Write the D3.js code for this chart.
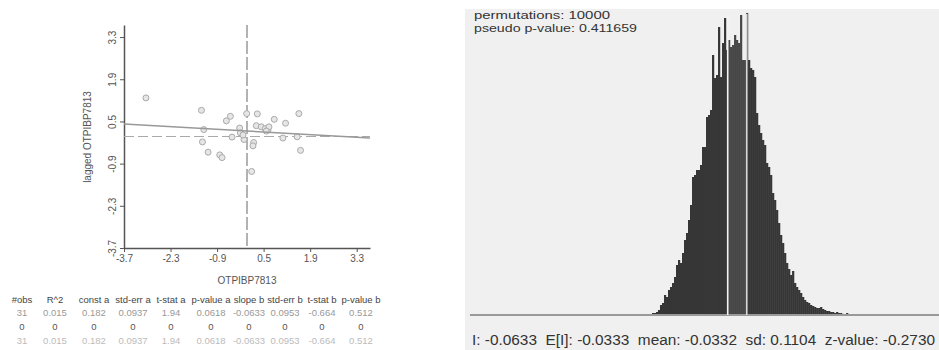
<!DOCTYPE html>
<html>
<head>
<meta charset="utf-8">
<script src="https://cdn.jsdelivr.net/npm/d3@7"></script>
<style>
  body { margin: 0; background: #fff; }
  svg { display: block; font-family: Arial, "Liberation Sans", sans-serif; }
</style>
</head>
<body>
<div id="chart"></div>
<script>
// scatter: variable vs lagged variable
const pointsX = [-3.04, -1.37, -1.30, -1.34, -1.17, -0.82, -0.75, -0.62, -0.50, -0.45, -0.22, -0.20, -0.09, -0.01, 0.20,
                 0.18, 0.14, 0.31, 0.28, 0.43, 0.55, 0.63, 0.66, 0.82, 1.16, 1.08, 1.51, 1.56, 1.61, 0.58, -0.12];
const pointsY = [1.28, 0.87, 0.23, -0.18, -0.52, -0.61, -0.70, 0.52, 0.67, -0.02, 0.28, 0.12, -0.10, 0.76, -0.20,
                 -0.31, -1.16, 0.75, 0.36, 0.32, 0.26, 0.21, 0.32, 0.57, 0.44, -0.05, -0.01, 0.76, -0.46, 0.18, 0.05];
const axisTicks = [-3.7, -2.3, -0.9, 0.5, 1.9, 3.3];
const constA = 0.182, slopeB = -0.0633;

// regression table
const tableHeader = ["#obs", "R^2", "const a", "std-err a", "t-stat a", "p-value a", "slope b", "std-err b", "t-stat b", "p-value b"];
const tableRow1 = ["31", "0.015", "0.182", "0.0937", "1.94", "0.0618", "-0.0633", "0.0953", "-0.664", "0.512"];
const tableRow2 = ["0", "0", "0", "0", "0", "0", "0", "0", "0", "0"];
const tableRow3 = ["31", "0.015", "0.182", "0.0937", "1.94", "0.0618", "-0.0633", "0.0953", "-0.664", "0.512"];

// permutation histogram (counts per bin)
const binStart = -0.1892, binWidth = 0.00316;
const binCounts = [1, 1, 2, 2, 3, 5, 10, 12, 20, 18, 25, 28, 32, 38, 50, 55, 52, 62, 75, 82,
                   95, 110, 138, 140, 145, 145, 150, 168, 168, 198, 200, 205, 260, 237, 240, 288, 238, 272, 297, 265,
                   275, 268, 270, 280, 275, 272, 300, 255, 255, 302, 255, 247, 245, 238, 202, 190, 182, 175, 170, 152,
                   148, 140, 122, 115, 105, 92, 80, 72, 62, 52, 46, 40, 44, 32, 28, 25, 22, 18, 15, 13,
                   12, 10, 9, 8, 7, 7, 8, 6, 5, 4, 4, 3, 3, 2, 3, 2, 2, 1, 1, 2,
                   1, 1, 0, 1, 1, 0, 1, 0, 1, 0, 1];
const observedI = -0.0633, expectedI = -0.0333;
const permText = ["permutations: 10000", "pseudo p-value: 0.411659"];
const statLabels = ["I:", "E[I]:", "mean:", "sd:", "z-value:"];
const statValues = ["-0.0633", "-0.0333", "-0.0332", "0.1104", "-0.2730"];

const svg = d3.select("#chart").append("svg").attr("width", 939).attr("height", 350);
svg.append("rect").attr("width", 939).attr("height", 350).attr("fill", "#fff");

// ---------- scatter ----------
const sx = d3.scaleLinear().domain([-3.7, 3.7]).range([124, 370]);
const sy = d3.scaleLinear().domain([-3.7, 3.7]).range([248, 25]);

const gx = svg.append("g").attr("transform", "translate(0,248)")
  .call(d3.axisBottom(sx).tickValues(axisTicks).tickSize(4).tickSizeOuter(0).tickFormat(d => d.toFixed(1)));
const gy = svg.append("g").attr("transform", "translate(124,0)")
  .call(d3.axisLeft(sy).tickValues(axisTicks).tickSize(4).tickSizeOuter(0).tickFormat(d => d.toFixed(1)));
[gx, gy].forEach(g => {
  g.select(".domain").attr("stroke", "#555").attr("stroke-width", 1.5);
  g.selectAll(".tick line").attr("stroke", "#555");
  g.selectAll("text").attr("fill", "#555").style("font-size", "10px").attr("font-family", null);
});
gy.selectAll("text")
  .attr("text-anchor", "middle").attr("x", null).attr("dy", null)
  .attr("transform", "translate(-8,0) rotate(-90)");

svg.append("text").attr("x", 247).attr("y", 284).attr("text-anchor", "middle")
  .style("font-size", "10px").attr("fill", "#555").text("OTPIBP7813");
svg.append("text").attr("transform", "translate(91,137) rotate(-90)").attr("text-anchor", "middle")
  .style("font-size", "10px").attr("fill", "#555").text("lagged OTPIBP7813");

// mean lines
svg.append("line").attr("x1", sx(0)).attr("x2", sx(0)).attr("y1", sy(3.7)).attr("y2", 248)
  .attr("stroke", "#666").attr("stroke-width", 1).attr("stroke-dasharray", "13,3");
svg.append("line").attr("x1", 124).attr("x2", sx(3.7)).attr("y1", sy(0)).attr("y2", sy(0))
  .attr("stroke", "#aaa").attr("stroke-width", 1.2).attr("stroke-dasharray", "10,4");

// points
svg.selectAll("circle.pt").data(pointsX).enter().append("circle")
  .attr("class", "pt")
  .attr("cx", d => sx(d)).attr("cy", (d, i) => sy(pointsY[i])).attr("r", 3)
  .attr("fill", "#e6e6e6").attr("stroke", "#aaa").attr("stroke-width", 1);

// regression line
svg.append("line")
  .attr("x1", sx(-3.7)).attr("y1", sy(constA + slopeB * -3.7))
  .attr("x2", sx(3.7)).attr("y2", sy(constA + slopeB * 3.7))
  .attr("stroke", "#999").attr("stroke-width", 1.5);

// table
const colX = [22, 55, 94, 133, 171, 211, 249, 285, 322, 361];
const rows = [
  { cells: tableHeader, y: 303, color: "#444" },
  { cells: tableRow1, y: 316, color: "#999" },
  { cells: tableRow2, y: 330, color: "#555" },
  { cells: tableRow3, y: 344, color: "#bbb" }
];
rows.forEach(r => {
  svg.append("g").selectAll("text").data(r.cells).enter().append("text")
    .attr("x", (d, i) => colX[i]).attr("y", r.y).attr("text-anchor", "middle")
    .style("font-size", "9.5px").attr("fill", r.color).text(d => d);
});

// ---------- permutation histogram ----------
svg.append("rect").attr("x", 465).attr("y", 9).attr("width", 474).attr("height", 341).attr("fill", "#f0f0f0");

const hx = d3.scaleLinear().domain([-0.4702, 0.2703]).range([470, 939]);
const hy = d3.scaleLinear().domain([0, d3.max(binCounts)]).range([315, 13]);

svg.append("g").selectAll("rect").data(binCounts).enter().append("rect")
  .attr("x", (d, i) => hx(binStart + i * binWidth))
  .attr("width", (d, i) => hx(binStart + (i + 1) * binWidth) - hx(binStart + i * binWidth) + 0.2)
  .attr("y", d => hy(d))
  .attr("height", d => 315 - hy(d))
  .attr("fill", (d, i) => {
    const v = binStart + i * binWidth;
    return (v > observedI && v < expectedI) ? "#474747" : "#363636";
  });

svg.append("line").attr("x1", 470).attr("x2", 939).attr("y1", 315).attr("y2", 315)
  .attr("stroke", "#999").attr("stroke-width", 2);

svg.append("line").attr("x1", hx(observedI)).attr("x2", hx(observedI)).attr("y1", 315).attr("y2", 14)
  .attr("stroke", "#f4f4f4").attr("stroke-width", 1.6);
svg.append("line").attr("x1", hx(expectedI)).attr("x2", hx(expectedI)).attr("y1", 315).attr("y2", 14)
  .attr("stroke", "#d8d8d8").attr("stroke-width", 1.6);

const permWidths = [136, 163];
svg.append("g").selectAll("text").data(permText).enter().append("text")
  .attr("x", 474).attr("y", (d, i) => 19 + i * 13)
  .attr("textLength", (d, i) => permWidths[i]).attr("lengthAdjust", "spacingAndGlyphs")
  .style("font-size", "11.5px").attr("fill", "#333").text(d => d);

svg.append("text").attr("x", 472).attr("y", 345)
  .style("font-size", "14px").attr("fill", "#333")
  .attr("xml:space", "preserve").style("white-space", "pre")
  .attr("textLength", 463).attr("lengthAdjust", "spacingAndGlyphs")
  .text(statLabels.map((l, i) => l + " " + statValues[i]).join("  "));
</script>
</body>
</html>
